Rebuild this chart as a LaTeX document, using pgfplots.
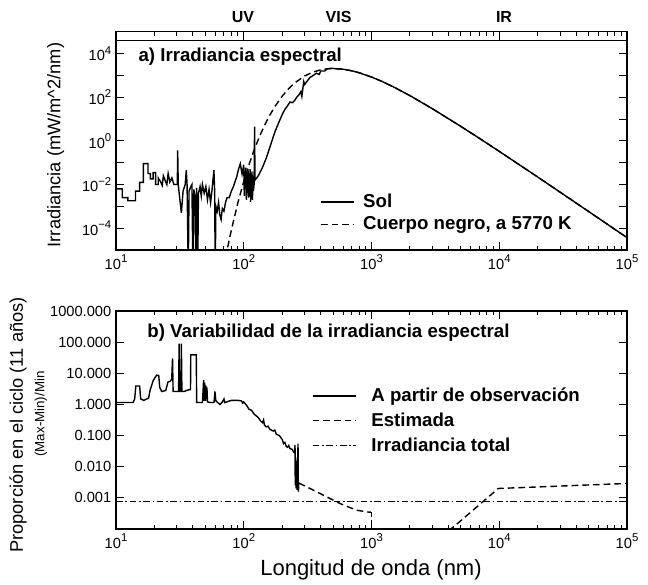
\documentclass[border=0pt]{standalone}
\usepackage{fontspec}
\setmainfont{Liberation Sans}
\usepackage{pgfplots}
\pgfplotsset{compat=1.18}
\newcommand\tp[1]{10\raisebox{0.45em}{\fontsize{8.5}{9}\selectfont #1}}
\begin{document}
\begin{tikzpicture}
\path[use as bounding box] (0pt,0pt) rectangle (486pt,438pt);

% ---------------- panel a ----------------
\begin{axis}[xmode=log, ymode=log,
    scale only axis, width=383.25pt, height=163.7pt,
    at={(87pt,250.5pt)}, anchor=south west,
    xmin=10, xmax=1e5, ymin=1e-5, ymax=1e5,
    axis line style={line width=0.8pt},
    tick style={line width=0.7pt, black},
    major tick length=6pt, minor tick length=3pt,
    tick align=inside,
    xtick={10,100,1000,10000,100000},
    xticklabels={\tp{1},\tp{2},\tp{3},\tp{4},\tp{5}},
    minor xtick={20,30,40,50,60,70,80,90,200,300,400,500,600,700,800,900,2000,3000,4000,5000,6000,7000,8000,9000,20000,30000,40000,50000,60000,70000,80000,90000},
    ytick={1e-4,1e-3,1e-2,1e-1,1,10,100,1000,1e4},
    yticklabels={\tp{−4},,\tp{−2},,\tp{0},,\tp{2},,\tp{4}},
    minor ytick={1e-5},
    tick label style={font=\fontsize{11}{12}\selectfont},
    legend image code/.code={\draw[#1] (0pt,0pt) -- (24.75pt,0pt);},
    legend style={draw=none, fill=none, inner sep=0pt, anchor=west,
      at={(0.399,0.1695)}, row sep=5.3pt, column sep=6.5pt,
      font=\fontsize{14}{16}\selectfont\bfseries,
      nodes={inner sep=0pt}, cells={anchor=west}},
]
\addplot[black, line width=1.05pt] coordinates {
(10,6.3e-3) (11.2,6.3e-3) (11.2,2.5e-3) (12.4,2.5e-3) (12.4,1.8e-3) (14.2,1.8e-3)
(14.2,5e-3) (15.3,5e-3) (15.3,1.26e-2) (16.4,1.26e-2) (16.4,9e-2) (17.8,9e-2)
(17.8,3.2e-2) (18.6,3.2e-2) (18.6,1.8e-2) (19.5,1.8e-2) (19.5,3.5e-2) (20.4,3.5e-2)
(20.4,1e-2) (21.4,1e-2) (21.4,2e-2) (22.4,1.3e-2) (23.0,9e-3) (23.5,2.5e-2)
(24.4,1.4e-2) (25.0,1e-2) (25.6,3.2e-2) (26.4,1.3e-2) (27.4,2e-2) (28.4,1e-2)
(29.5,1e-2) (30.2,1e-2) (30.4,0.37) (30.7,1e-2) (31.5,2.5e-3) (32.5,5e-4)
(33.5,5e-3) (34.8,1e-2) (35.5,4.5e-2) (36.0,1e-2) (36.8,1e-6) (37.3,5e-3)
(38.5,8e-3) (39.3,1e-2) (40.0,1e-6) (40.6,6e-3) (41.5,3e-3) (42.2,1e-6)
(42.8,7e-3) (43.6,1e-6) (44.2,4e-3) (45.5,8e-3) (46.5,3e-3) (47.5,1e-2)
(49,4e-3) (50.5,8e-3) (52,2e-3) (53.5,6e-3) (55,1.5e-3) (56.5,6e-3)
(58.4,4.5e-2) (59.2,5e-3) (59.8,1e-6) (60.5,1e-3) (62,6e-4) (63.5,1.5e-3)
(65,4e-4) (66.5,2.5e-4) (68,8e-4) (70,6e-4) (72,1.5e-3) (74,2.5e-3)
(77,2.5e-3) (80,5e-3) (83,8e-3) (86,1.5e-2) (88,2.2e-2) (91,5e-2)
(94,9e-2) (97,3e-2) (100,8e-2) (101,3e-3) (102,4e-2) (103,6e-3)
(104,6e-2) (105,2e-3) (106,2.5e-2) (107,5e-3) (108,5e-2) (109,2.5e-3)
(110,3e-2) (111,4e-3) (112,5e-2) (113,1.6e-3) (114,2e-2) (115,3e-3)
(116,4e-2) (117,2e-3) (118,2.5e-2) (119,5e-3) (120.5,1e-2) (121.5,4.5)
(122.5,1.6e-2) (130,2.5e-2) (140,6e-2) (150,0.16) (160,0.5) (175,2.5)
(190,8.0) (200,16) (210,28) (220,40) (230,60) (240,56)
(250,70) (260,100) (270,126) (280,180) (285,110) (290,250)
(295,520) (300,380) (310,500) (330,800) (350,1000) (370,1250)
(390,1100) (400,1580) (430,1580) (450,2000) (480,2090) (500,2080)
(600,1915) (700,1622) (800,1320) (1000,840) (1200,537) (1500,288)
(2000,118) (3000,29.6) (5000,4.61) (7000,1.30) (10000,0.33) (20000,0.022)
(30000,4.43e-3) (50000,5.83e-4) (100000,3.7e-5)
};
\addlegendentry{Sol}
\addplot[black, line width=1.05pt, dash pattern=on 5pt off 3pt] coordinates {
(72,4.4e-6) (75,1.4e-5) (80,8.3e-5) (90,1.48e-3) (100,1.38e-2) (110,8.3e-2)
(120,0.355) (125,0.66) (135,1.98) (150,7.4) (160,15.1) (175,37) (200,112)
(225,248) (250,447) (300,942) (350,1430) (400,1795) (450,1992) (500,2050)
(600,1915) (700,1622) (800,1320) (1000,840) (1200,537) (1500,288)
(2000,118) (3000,29.6) (5000,4.61) (7000,1.30) (10000,0.33) (20000,0.022)
(30000,4.43e-3) (50000,5.83e-4) (100000,3.7e-5)
};
\addlegendentry{Cuerpo negro, a 5770 K}
\draw[line width=0.8pt] (rel axis cs:0,0.9588) -- (rel axis cs:1,0.9588);
\node[anchor=base west, inner sep=0pt, font=\fontsize{14}{16}\selectfont\bfseries]
  at (rel axis cs:0.0436,0.8626) {a) Irradiancia espectral};
\end{axis}

% ---------------- panel b ----------------
\begin{axis}[xmode=log, ymode=log,
    scale only axis, width=383.25pt, height=163.5pt,
    at={(87pt,41.25pt)}, anchor=south west,
    xmin=10, xmax=1e5, ymin=1e-4, ymax=1000,
    axis line style={line width=0.8pt},
    tick style={line width=0.7pt, black},
    major tick length=6pt, minor tick length=3pt,
    tick align=inside,
    xtick={10,100,1000,10000,100000},
    xticklabels={\tp{1},\tp{2},\tp{3},\tp{4},\tp{5}},
    minor xtick={20,30,40,50,60,70,80,90,200,300,400,500,600,700,800,900,2000,3000,4000,5000,6000,7000,8000,9000,20000,30000,40000,50000,60000,70000,80000,90000},
    ytick={1e-3,1e-2,0.1,1,10,100,1000},
    yticklabels={0.001,0.010,0.100,1.000,10.000,100.000,1000.000},
    minor ytick={1e-4},
    tick label style={font=\fontsize{11}{12}\selectfont},
    legend image code/.code={\draw[#1] (0pt,0pt) -- (32.5pt,0pt);},
    legend style={draw=none, fill=none, inner sep=0pt, anchor=west,
      at={(0.383,0.497)}, row sep=6.9pt, column sep=11pt,
      font=\fontsize{14}{16}\selectfont\bfseries,
      nodes={inner sep=0pt}, cells={anchor=west}},
]
\addplot[black, line width=1.05pt] coordinates {
(10,1.15) (13.6,1.15) (14.0,1.5) (14.3,3.9) (15.3,3.9) (15.6,1.5)
(16.5,1.35) (18.0,1.6) (18.5,2.9) (19.6,6.0) (20.8,8.7) (21.6,8.5)
(22.0,3.5) (22.8,2.6) (24.5,2.8) (25.5,5.2) (26.5,5.5) (27.3,6.5)
(27.7,30) (28.0,2.6) (30.9,2.6) (31.2,90) (31.5,2.6) (32.3,2.6)
(32.5,90) (32.8,2.6) (34.0,2.6) (37.5,3.0) (38.3,3.0) (38.5,39)
(42.5,39) (42.8,1.15) (47.5,1.15) (48.5,6) (49,1.3) (49.5,5)
(50,1.3) (50.5,4) (51,1.5) (51.5,3.5) (52,1.2) (55,1.15)
(58.5,1.15) (59.5,2.6) (60.5,1.3) (65,1.0) (68,1.2) (70,1.5)
(71,1.15) (80,1.35) (90,1.35) (96,1.3) (98,1.1) (100,1.2)
(105,0.95) (110,0.7) (115,0.65) (120,0.5) (126,0.42) (130,0.38)
(135,0.3) (140,0.26) (143,0.32) (145,0.22) (150,0.19) (155,0.2)
(160,0.16) (170,0.14) (175,0.15) (180,0.11) (190,0.10) (200,0.075)
(205,0.055) (210,0.06) (215,0.045) (220,0.042) (225,0.048) (230,0.038)
(240,0.036) (245,0.03) (250,0.028) (252,0.05) (253,0.0025) (255,0.02)
(257,0.002) (260,0.015) (262,0.0018) (264,0.012) (266,0.055) (267,0.002)
(268,0.0016) (270,0.003)
};
\addlegendentry{A partir de observación}
\addplot[black, line width=1.05pt, dash pattern=on 5pt off 3pt] coordinates {
(270,0.003) (400,0.00135) (566,0.00066) (765,0.0004) (945,0.00035) (990,0.00035)
};
\addlegendentry{Estimada}
\addplot[black, line width=1.05pt, dash pattern=on 4pt off 2pt, forget plot] coordinates {
(1000,0.00035) (1000,0.0001)
};
\addplot[black, line width=1.05pt, dash pattern=on 5pt off 3pt, forget plot] coordinates {
(4000,0.00009) (4370,0.000115) (9830,0.002) (100000,0.0029)
};
\addplot[black, line width=1.05pt, dash pattern=on 5pt off 2pt on 1.2pt off 2pt] coordinates {
(10,0.00075) (100000,0.00075)
};
\addlegendentry{Irradiancia total}
\node[anchor=base west, inner sep=0pt, font=\fontsize{14}{16}\selectfont\bfseries]
  at (rel axis cs:0.061,0.878) {b) Variabilidad de la irradiancia espectral};
\end{axis}

% ---------------- outer labels ----------------
\begin{scope}[every node/.style={inner sep=0pt}]
\node[font=\fontsize{12}{14}\selectfont\bfseries] at (182.25pt,425.25pt) {UV};
\node[font=\fontsize{12}{14}\selectfont\bfseries] at (253.9pt,425.25pt) {VIS};
\node[font=\fontsize{12}{14}\selectfont\bfseries] at (378pt,425.25pt) {IR};
\node[rotate=90, font=\fontsize{13.7}{15}\selectfont] at (41.7pt,329.25pt) {Irradiancia (mW/m\^{}2/nm)};
\node[rotate=90, font=\fontsize{13.7}{15}\selectfont] at (13.5pt,119.25pt) {Proporción en el ciclo (11 años)};
\node[rotate=90, font=\fontsize{10}{12}\selectfont] at (30.75pt,127.5pt) {(Max-Min)/Min};
\node[font=\fontsize{16.5}{18}\selectfont] at (278.25pt,10.5pt) {Longitud de onda (nm)};
\end{scope}
\end{tikzpicture}
\end{document}
